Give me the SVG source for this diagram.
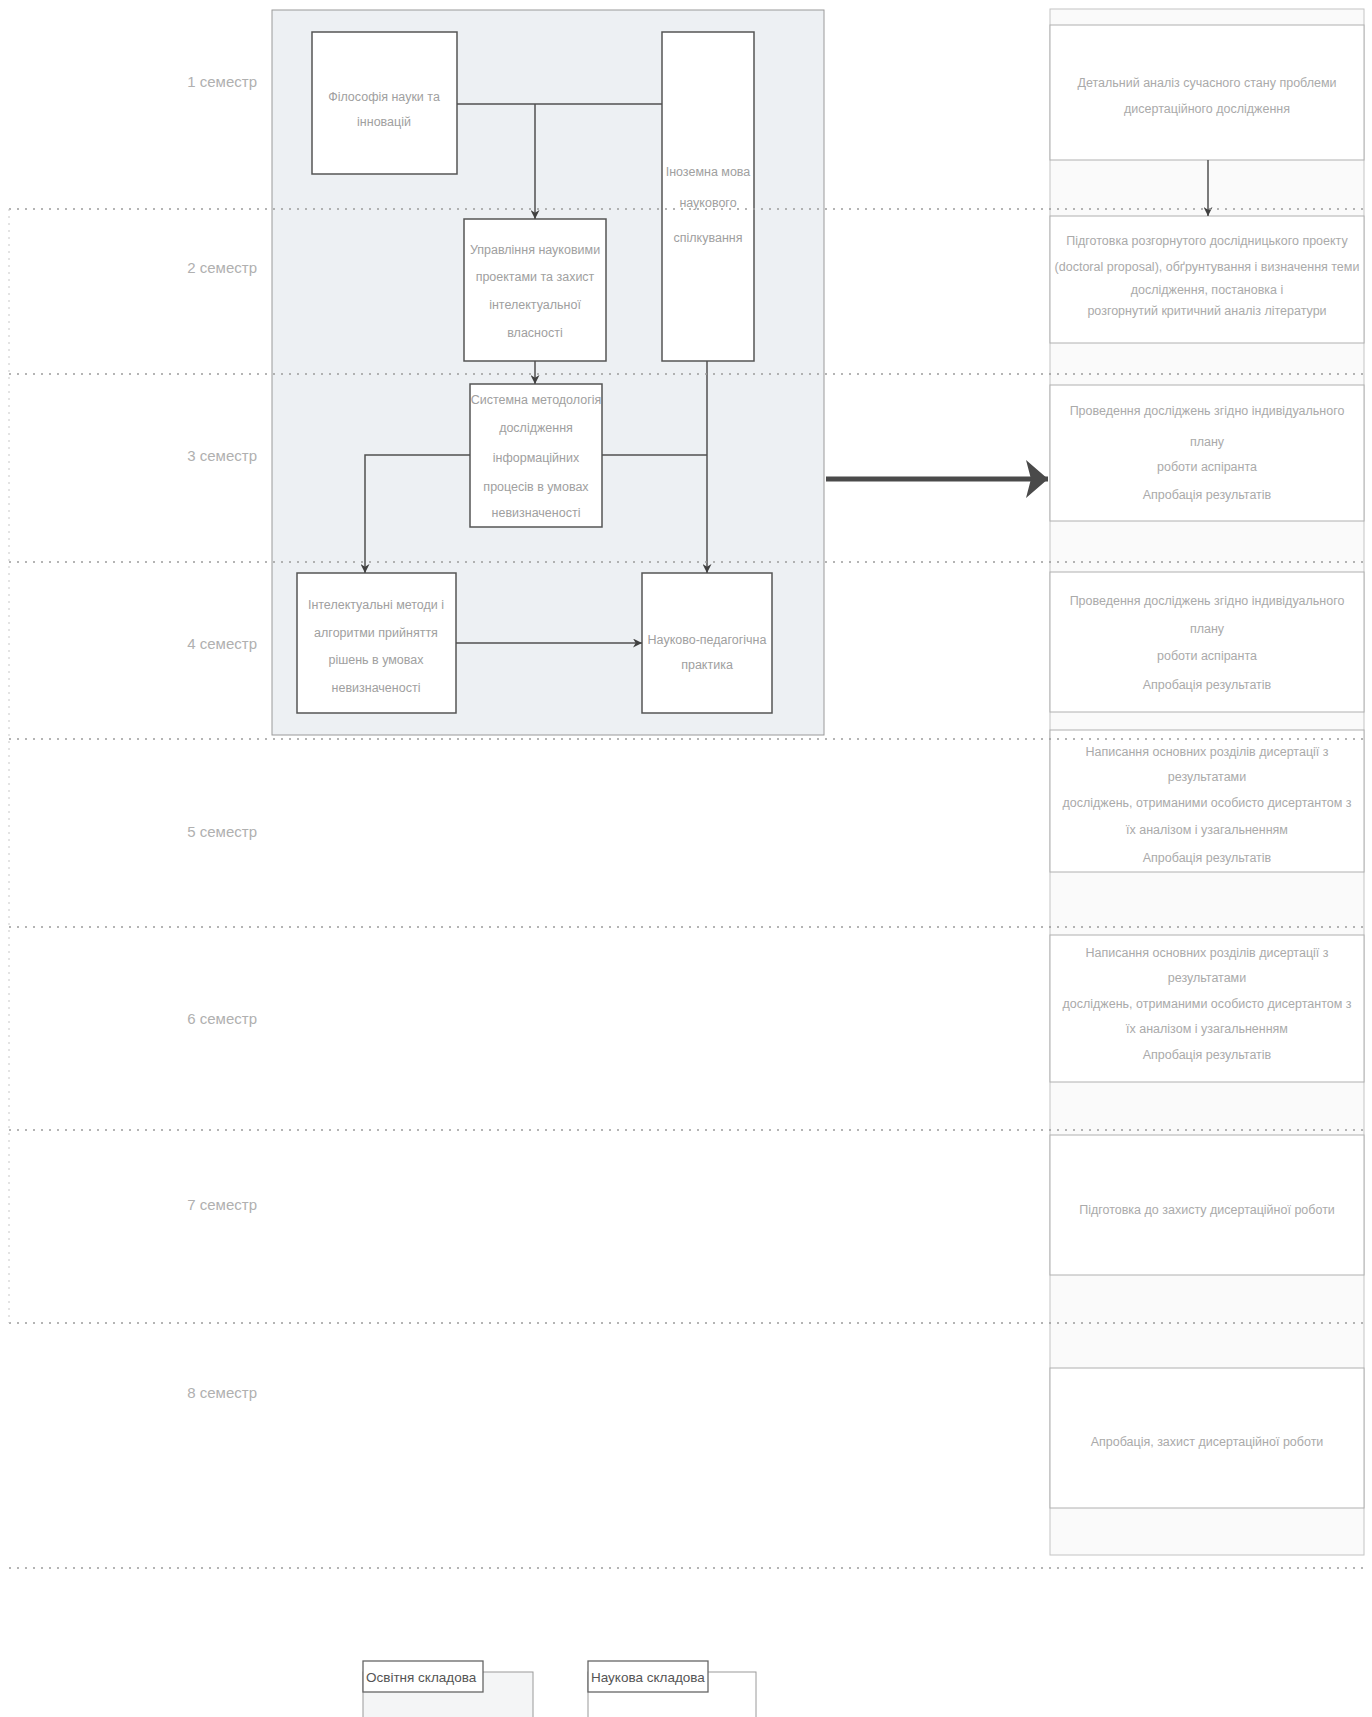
<svg xmlns="http://www.w3.org/2000/svg" width="1372" height="1717" viewBox="0 0 1372 1717">
<style>
.dash{stroke:#9c9c9c;stroke-width:1.4;stroke-dasharray:2 6;fill:none}
.vdash{stroke:#c8c8c8;stroke-width:1;stroke-dasharray:2 5;fill:none}
.sem{font-family:"Liberation Sans",Arial,sans-serif;font-size:15px;fill:#b0b0b0;text-anchor:end}
.box{fill:#ffffff;stroke:#555555;stroke-width:1.5}
.t{font-family:"Liberation Sans",Arial,sans-serif;font-size:12.5px;fill:#a0a0a0;text-anchor:middle}
.rbox{fill:#ffffff;stroke:#b0b0b0;stroke-width:1}
.rt{font-family:"Liberation Sans",Arial,sans-serif;font-size:12.5px;fill:#aaaaaa;text-anchor:middle}
.conn{stroke:#505050;stroke-width:1.5;fill:none}
.lbl{font-family:"Liberation Sans",Arial,sans-serif;font-size:13.5px;fill:#555555}
</style>
<defs>
<marker id="arr" viewBox="0 0 10 10" refX="10" refY="5" markerWidth="9" markerHeight="9" markerUnits="userSpaceOnUse" orient="auto">
<path d="M0,0 L10,5 L0,10 L3,5 Z" fill="#404040"/>
</marker>
<marker id="bigarr" viewBox="0 0 22 38" refX="22" refY="19" markerWidth="22" markerHeight="38" markerUnits="userSpaceOnUse" orient="auto">
<path d="M0,0 L22,19 L0,38 L5,19 Z" fill="#4a4a4a"/>
</marker>
</defs>
<rect width="1372" height="1717" fill="#ffffff"/>

<g id="edu-container">
<rect x="272" y="10" width="552" height="725" fill="#edf0f3" stroke="#9a9a9a" stroke-width="1"/>
</g>
<g id="sci-container">
<rect x="1050" y="9" width="314" height="1546" fill="#fafafa" stroke="#c4c4c4" stroke-width="1"/>
</g>

<g id="n-philosophy">
<rect class="box" x="312" y="32" width="145" height="142"/>
<text class="t" x="384" y="101">Філософія науки та</text>
<text class="t" x="384" y="126">інновацій</text>
</g>
<g id="n-language">
<rect class="box" x="662" y="32" width="92" height="329"/>
<text class="t" x="708" y="176">Іноземна мова</text>
<text class="t" x="708" y="207">наукового</text>
<text class="t" x="708" y="242">спілкування</text>
</g>
<g id="n-management">
<rect class="box" x="464" y="219" width="142" height="142"/>
<text class="t" x="535" y="254">Управління науковими</text>
<text class="t" x="535" y="281">проектами та захист</text>
<text class="t" x="535" y="309">інтелектуальної</text>
<text class="t" x="535" y="337">власності</text>
</g>
<g id="n-system">
<rect class="box" x="470" y="384" width="132" height="143"/>
<text class="t" x="536" y="404">Системна методологія</text>
<text class="t" x="536" y="432">дослідження</text>
<text class="t" x="536" y="462">інформаційних</text>
<text class="t" x="536" y="491">процесів в умовах</text>
<text class="t" x="536" y="517">невизначеності</text>
</g>
<g id="n-intellect">
<rect class="box" x="297" y="573" width="159" height="140"/>
<text class="t" x="376" y="609">Інтелектуальні методи і</text>
<text class="t" x="376" y="637">алгоритми прийняття</text>
<text class="t" x="376" y="664">рішень в умовах</text>
<text class="t" x="376" y="692">невизначеності</text>
</g>
<g id="n-practice">
<rect class="box" x="642" y="573" width="130" height="140"/>
<text class="t" x="707" y="644">Науково-педагогічна</text>
<text class="t" x="707" y="669">практика</text>
</g>

<g id="r1">
<rect class="rbox" x="1050" y="25" width="314" height="135"/>
<text class="rt" x="1207" y="87">Детальний аналіз сучасного стану проблеми</text>
<text class="rt" x="1207" y="113">дисертаційного дослідження</text>
</g>
<g id="r2">
<rect class="rbox" x="1050" y="216" width="314" height="127"/>
<text class="rt" x="1207" y="245">Підготовка розгорнутого  дослідницького проекту</text>
<text class="rt" x="1207" y="271">(doctoral proposal), обґрунтування і визначення теми</text>
<text class="rt" x="1207" y="294">дослідження, постановка і</text>
<text class="rt" x="1207" y="315">розгорнутий критичний аналіз літератури</text>
</g>
<g id="r3">
<rect class="rbox" x="1050" y="385" width="314" height="136"/>
<text class="rt" x="1207" y="415">Проведення досліджень згідно індивідуального</text>
<text class="rt" x="1207" y="446">плану</text>
<text class="rt" x="1207" y="471">роботи аспіранта</text>
<text class="rt" x="1207" y="499">Апробація результатів</text>
</g>
<g id="r4">
<rect class="rbox" x="1050" y="572" width="314" height="140"/>
<text class="rt" x="1207" y="605">Проведення досліджень згідно індивідуального</text>
<text class="rt" x="1207" y="633">плану</text>
<text class="rt" x="1207" y="660">роботи аспіранта</text>
<text class="rt" x="1207" y="689">Апробація результатів</text>
</g>
<g id="r5">
<rect class="rbox" x="1050" y="730" width="314" height="142"/>
<text class="rt" x="1207" y="756">Написання основних розділів дисертації з</text>
<text class="rt" x="1207" y="781">результатами</text>
<text class="rt" x="1207" y="807">досліджень, отриманими особисто дисертантом з</text>
<text class="rt" x="1207" y="834">їх аналізом і узагальненням</text>
<text class="rt" x="1207" y="862">Апробація результатів</text>
</g>
<g id="r6">
<rect class="rbox" x="1050" y="935" width="314" height="147"/>
<text class="rt" x="1207" y="957">Написання основних розділів дисертації з</text>
<text class="rt" x="1207" y="982">результатами</text>
<text class="rt" x="1207" y="1008">досліджень, отриманими особисто дисертантом з</text>
<text class="rt" x="1207" y="1033">їх аналізом і узагальненням</text>
<text class="rt" x="1207" y="1059">Апробація результатів</text>
</g>
<g id="r7">
<rect class="rbox" x="1050" y="1135" width="314" height="140"/>
<text class="rt" x="1207" y="1214">Підготовка до захисту дисертаційної роботи</text>
</g>
<g id="r8">
<rect class="rbox" x="1050" y="1368" width="314" height="140"/>
<text class="rt" x="1207" y="1446">Апробація, захист дисертаційної роботи</text>
</g>

<g id="connectors">
<path class="conn" d="M457,104 H662"/>
<path class="conn" d="M535,104 V219" marker-end="url(#arr)"/>
<path class="conn" d="M535,361 V384" marker-end="url(#arr)"/>
<path class="conn" d="M470,455 H365 V573" marker-end="url(#arr)"/>
<path class="conn" d="M602,455 H707"/>
<path class="conn" d="M707,361 V573" marker-end="url(#arr)"/>
<path class="conn" d="M456,643 H642" marker-end="url(#arr)"/>
<path class="conn" d="M1208,160 V216" stroke-width="1" marker-end="url(#arr)"/>
<path d="M826,479 H1048" stroke="#4a4a4a" stroke-width="5" fill="none" marker-end="url(#bigarr)"/>
</g>

<g id="lanes">
<path class="dash" d="M9,209 H1364 M9,374 H1364 M9,562 H1364 M9,739 H1364 M9,927 H1364 M9,1130 H1364 M9,1323 H1364 M9,1568 H1364"/>
<path class="vdash" d="M9,209 V1323"/>
<text class="sem" x="257" y="87">1 семестр</text>
<text class="sem" x="257" y="273">2 семестр</text>
<text class="sem" x="257" y="461">3 семестр</text>
<text class="sem" x="257" y="649">4 семестр</text>
<text class="sem" x="257" y="837">5 семестр</text>
<text class="sem" x="257" y="1024">6 семестр</text>
<text class="sem" x="257" y="1210">7 семестр</text>
<text class="sem" x="257" y="1398">8 семестр</text>
</g>

<g id="legend-edu">
<rect x="363" y="1672" width="170" height="60" fill="#f4f5f6" stroke="#9a9a9a" stroke-width="1"/>
<rect x="363" y="1661" width="120" height="31" fill="#ffffff" stroke="#666666" stroke-width="1.3"/>
<text class="lbl" x="366" y="1682">Освітня складова</text>
</g>
<g id="legend-sci">
<rect x="588" y="1672" width="168" height="60" fill="#ffffff" stroke="#9a9a9a" stroke-width="1"/>
<rect x="588" y="1661" width="120" height="31" fill="#ffffff" stroke="#666666" stroke-width="1.3"/>
<text class="lbl" x="591" y="1682">Наукова складова</text>
</g>
</svg>
